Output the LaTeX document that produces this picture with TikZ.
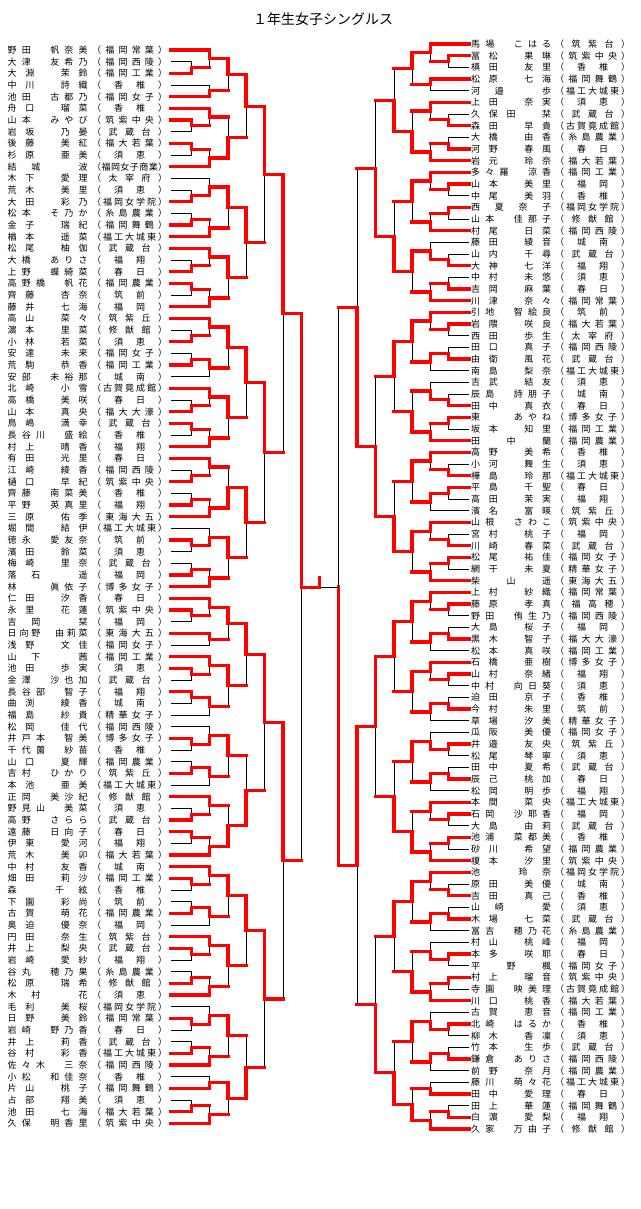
\documentclass[tikz,border=0pt]{standalone}
\usepackage{fontspec}
\setmainfont{Noto Sans CJK JP}
\usetikzlibrary{calc}
\ExplSyntaxOn
\cs_new_protected:Npn \my_dist:nn #1#2
  {
    \hbox_to_wd:nn {#1}
      {
        \bool_set_true:N \l_tmpa_bool
        \tl_map_inline:nn {#2}
          {
            \bool_if:NTF \l_tmpa_bool { \bool_set_false:N \l_tmpa_bool } { \hfill }
            ##1
          }
      }
  }
\NewDocumentCommand \dist { m m } { \my_dist:nn {#1} {#2} }
\ExplSyntaxOff
% entries
\newcommand\EntL[3]{%
  \pgfmathsetmacro\yy{50+11.667*(#1-1)}%
  \coordinate (L#1) at (171,\yy);
  \node[txt] (Ln#1) at (7.5,\yy) {\dist{80pt}{#2}};
  \node[txt] (Ls#1) at (92,\yy) {\dist{75pt}{#3}};
}
\newcommand\EntR[3]{%
  \pgfmathsetmacro\yy{44+11.667*(#1-1)}%
  \coordinate (R#1) at (469,\yy);
  \node[txt] (Rn#1) at (471,\yy) {\dist{80pt}{#2}};
  \node[txt] (Rs#1) at (555,\yy) {\dist{75pt}{#3}};
}
% match: name, level coordinate, input A, input B, winner (1/2)
\newcommand\Mt[5]{%
  \coordinate (#1-t) at (#3 -| #2);
  \coordinate (#1-b) at (#4 -| #2);
  \coordinate (#1) at ($(#1-t)!.5!(#1-b)$);
  \draw[thinln] (#3) -- (#1-t) -- (#1-b) -- (#4);
  \ifnum#5=1
    \draw[redln] (#3) -- (#1-t) -- (#1);
    \ifcsname ism@#4\endcsname \draw[redln] (#4) -- (#1-b);\fi
  \else
    \draw[redln] (#4) -- (#1-b) -- (#1);
    \ifcsname ism@#3\endcsname \draw[redln] (#3) -- (#1-t);\fi
  \fi
  \expandafter\gdef\csname ism@#1\endcsname{}%
}
\begin{document}
\begin{tikzpicture}[x=1pt,y=-1pt,
  thinln/.style={black,line width=0.9pt},
  redln/.style={red,line width=3.2pt,line cap=rect,line join=miter},
  txt/.style={inner sep=0pt,anchor=west,font=\fontsize{9}{9}\selectfont}]
\useasboundingbox (0,0) rectangle (640,1209);
\fill[white] (0,0) rectangle (640,1209);
\node[font=\fontsize{14}{14}\selectfont] (title) at (323,19) {１年生女子シングルス};
% level coordinates
\coordinate (xLP) at (191.5,0); \coordinate (xLA) at (209.5,0);
\coordinate (xLB) at (228,0);   \coordinate (xLC) at (246,0);
\coordinate (xLD) at (264.5,0); \coordinate (xLE) at (283,0);
\coordinate (xLF) at (301.5,0);
\coordinate (xRP) at (448.5,0); \coordinate (xRA) at (430.5,0);
\coordinate (xRB) at (412,0);   \coordinate (xRC) at (394,0);
\coordinate (xRD) at (375.5,0); \coordinate (xRE) at (357,0);
\coordinate (xRF) at (338.5,0);
\coordinate (xFC) at (319.5,0);
% ---------------- left entries
\EntL{1}{野田　帆奈美}{（福岡常葉）}
\EntL{2}{大津　友希乃}{（福岡西陵）}
\EntL{3}{大淵　茉鈴}{（福岡工業）}
\EntL{4}{中川　詩織}{（香椎）}
\EntL{5}{池田　古都乃}{（福岡女子）}
\EntL{6}{舟口　瑠菜}{（香椎）}
\EntL{7}{山本　みやび}{（筑紫中央）}
\EntL{8}{岩坂　乃晏}{（武蔵台）}
\EntL{9}{後藤　美紅}{（福大若葉）}
\EntL{10}{杉原　亜美}{（須恵）}
\EntL{11}{結城　波}{（福岡女子商業）}
\EntL{12}{木下　愛理}{（太宰府）}
\EntL{13}{荒木　美里}{（須恵）}
\EntL{14}{大田　彩乃}{（福岡女学院）}
\EntL{15}{松本　そ乃か}{（糸島農業）}
\EntL{16}{金子　瑞紀}{（福岡舞鶴）}
\EntL{17}{楢本　遥菜}{（福工大城東）}
\EntL{18}{松尾　柚伽}{（武蔵台）}
\EntL{19}{大橋　ありさ}{（福翔）}
\EntL{20}{上野　蝶綺菜}{（春日）}
\EntL{21}{高野橋　帆花}{（福岡農業）}
\EntL{22}{齊藤　杏奈}{（筑前）}
\EntL{23}{藤井　七海}{（福岡）}
\EntL{24}{高山　菜々}{（筑紫丘）}
\EntL{25}{濵本　里菜}{（修猷館）}
\EntL{26}{小林　若菜}{（須恵）}
\EntL{27}{安達　未来}{（福岡女子）}
\EntL{28}{荒駒　恭香}{（福岡工業）}
\EntL{29}{安部　未裕那}{（城南）}
\EntL{30}{北崎　小雪}{（古賀竟成館）}
\EntL{31}{高橋　美咲}{（春日）}
\EntL{32}{山本　真央}{（福大大濠）}
\EntL{33}{鳥嶋　満幸}{（武蔵台）}
\EntL{34}{長谷川　盛絵}{（香椎）}
\EntL{35}{村上　晴香}{（福翔）}
\EntL{36}{有田　光里}{（春日）}
\EntL{37}{江崎　綾香}{（福岡西陵）}
\EntL{38}{樋口　早紀}{（筑紫中央）}
\EntL{39}{齊藤　南菜美}{（香椎）}
\EntL{40}{平野　英真里}{（福翔）}
\EntL{41}{三原　佑季}{（東海大五）}
\EntL{42}{堀間　結伊}{（福工大城東）}
\EntL{43}{徳永　愛友奈}{（筑前）}
\EntL{44}{濱田　鈴菜}{（須恵）}
\EntL{45}{梅崎　里奈}{（武蔵台）}
\EntL{46}{落石　遥}{（福岡）}
\EntL{47}{林　　眞依子}{（博多女子）}
\EntL{48}{仁田　汐香}{（春日）}
\EntL{49}{永里　花蓮}{（筑紫中央）}
\EntL{50}{吉岡　栞}{（福岡）}
\EntL{51}{日向野　由莉菜}{（東海大五）}
\EntL{52}{浅野　文佳}{（福岡女子）}
\EntL{53}{山下　茜}{（福岡工業）}
\EntL{54}{池田　歩実}{（須恵）}
\EntL{55}{金澤　沙也加}{（武蔵台）}
\EntL{56}{長谷部　智子}{（福翔）}
\EntL{57}{曲渕　綾香}{（城南）}
\EntL{58}{福島　紗貴}{（精華女子）}
\EntL{59}{松岡　佳代}{（福岡西陵）}
\EntL{60}{井戸本　智美}{（博多女子）}
\EntL{61}{千代薗　紗苗}{（香椎）}
\EntL{62}{山口　夏輝}{（福岡農業）}
\EntL{63}{吉村　ひかり}{（筑紫丘）}
\EntL{64}{本池　亜美}{（福工大城東）}
\EntL{65}{正岡　美沙紀}{（修猷館）}
\EntL{66}{野見山　美菜}{（須恵）}
\EntL{67}{高野　さらら}{（武蔵台）}
\EntL{68}{遠藤　日向子}{（春日）}
\EntL{69}{伊東　愛河}{（福翔）}
\EntL{70}{荒木　美卯}{（福大若葉）}
\EntL{71}{中村　友香}{（城南）}
\EntL{72}{畑田　莉沙}{（福岡工業）}
\EntL{73}{森　千絃}{（香椎）}
\EntL{74}{下園　彩尚}{（筑前）}
\EntL{75}{古賀　萌花}{（福岡農業）}
\EntL{76}{奥迫　優奈}{（福岡）}
\EntL{77}{円田　奈生}{（筑紫台）}
\EntL{78}{井上　梨央}{（武蔵台）}
\EntL{79}{岩崎　愛紗}{（福翔）}
\EntL{80}{谷丸　穂乃果}{（糸島農業）}
\EntL{81}{松原　瑞希}{（修猷館）}
\EntL{82}{木村　花}{（須恵）}
\EntL{83}{毛利　美桜}{（福岡女学院）}
\EntL{84}{日野　美鈴}{（福岡常葉）}
\EntL{85}{岩崎　野乃香}{（春日）}
\EntL{86}{井上　莉香}{（武蔵台）}
\EntL{87}{谷村　彩香}{（福工大城東）}
\EntL{88}{佐々木　三奈}{（福岡西陵）}
\EntL{89}{小松　和佳奈}{（香椎）}
\EntL{90}{片山　桃子}{（福岡舞鶴）}
\EntL{91}{占部　翔美}{（須恵）}
\EntL{92}{池田　七海}{（福大若葉）}
\EntL{93}{久保　明香里}{（筑紫中央）}
% ---------------- right entries
\EntR{1}{馬場　こはる}{（筑紫台）}
\EntR{2}{冨松　果琳}{（筑紫中央）}
\EntR{3}{槙田　友里}{（香椎）}
\EntR{4}{松原　七海}{（福岡舞鶴）}
\EntR{5}{河邉　歩}{（福工大城東）}
\EntR{6}{上田　奈実}{（須恵）}
\EntR{7}{久保田　栞}{（武蔵台）}
\EntR{8}{森田　早貴}{（古賀竟成館）}
\EntR{9}{大橋　由香}{（糸島農業）}
\EntR{10}{河野　春風}{（春日）}
\EntR{11}{岩元　玲奈}{（福大若葉）}
\EntR{12}{多々羅　涼香}{（福岡工業）}
\EntR{13}{山本　美里}{（福岡）}
\EntR{14}{中尾　美羽}{（香椎）}
\EntR{15}{西夏奈子}{（福岡女学院）}
\EntR{16}{山本　佳那子}{（修猷館）}
\EntR{17}{村尾　日菜}{（福岡西陵）}
\EntR{18}{藤田　綾音}{（城南）}
\EntR{19}{山内　千尋}{（武蔵台）}
\EntR{20}{大神　七洋}{（福翔）}
\EntR{21}{中村　未悠}{（須恵）}
\EntR{22}{吉岡　麻葉}{（春日）}
\EntR{23}{川津　奈々}{（福岡常葉）}
\EntR{24}{引地　智絵良}{（筑前）}
\EntR{25}{岩隈　咲良}{（福大若葉）}
\EntR{26}{西田　歩生}{（太宰府）}
\EntR{27}{田口　真子}{（福岡西陵）}
\EntR{28}{由衛　風花}{（武蔵台）}
\EntR{29}{南島　梨奈}{（福工大城東）}
\EntR{30}{吉武　結友}{（須恵）}
\EntR{31}{辰島　詩朋子}{（城南）}
\EntR{32}{田中　真衣}{（春日）}
\EntR{33}{東　　あやね}{（博多女子）}
\EntR{34}{坂本　知里}{（福岡工業）}
\EntR{35}{田　中　蘭}{（福岡農業）}
\EntR{36}{高野　美希}{（香椎）}
\EntR{37}{小河　舞生}{（須恵）}
\EntR{38}{樺島　玲那}{（福工大城東）}
\EntR{39}{平島　千聖}{（春日）}
\EntR{40}{高田　茉実}{（福翔）}
\EntR{41}{濱名　富暎}{（筑紫丘）}
\EntR{42}{山根　さわこ}{（筑紫中央）}
\EntR{43}{宮村　桃子}{（福岡）}
\EntR{44}{川崎　春菜}{（武蔵台）}
\EntR{45}{松尾　祐佳}{（福岡女子）}
\EntR{46}{網干　未夏}{（精華女子）}
\EntR{47}{柴　山　遥}{（東海大五）}
\EntR{48}{上村　紗織}{（福岡常葉）}
\EntR{49}{藤原　孝真}{（福高穂）}
\EntR{50}{野田　侑生乃}{（福岡西陵）}
\EntR{51}{大島　桜子}{（福岡）}
\EntR{52}{黒木　智子}{（福大大濠）}
\EntR{53}{松本　真咲}{（福岡工業）}
\EntR{54}{石橋　亜樹}{（博多女子）}
\EntR{55}{山村　奈緒}{（福翔）}
\EntR{56}{中村　向日葵}{（須恵）}
\EntR{57}{迫田　京子}{（香椎）}
\EntR{58}{今村　朱里}{（筑前）}
\EntR{59}{草場　汐美}{（精華女子）}
\EntR{60}{瓜阪　美優}{（福岡女子）}
\EntR{61}{井邉　友央}{（筑紫丘）}
\EntR{62}{松尾　琴寧}{（須恵）}
\EntR{63}{田中　夏希}{（武蔵台）}
\EntR{64}{辰己　桃加}{（春日）}
\EntR{65}{松岡　明歩}{（福翔）}
\EntR{66}{本間　菜央}{（福工大城東）}
\EntR{67}{石岡　沙耶香}{（福岡）}
\EntR{68}{大島　由莉}{（武蔵台）}
\EntR{69}{池浦　菜都美}{（香椎）}
\EntR{70}{砂川　希望}{（福岡農業）}
\EntR{71}{榎本　汐里}{（筑紫中央）}
\EntR{72}{池　玲奈}{（福岡女学院）}
\EntR{73}{原田　美優}{（城南）}
\EntR{74}{吉田　真己}{（香椎）}
\EntR{75}{山崎　愛}{（須恵）}
\EntR{76}{木場　七菜}{（武蔵台）}
\EntR{77}{冨吉　穂乃花}{（糸島農業）}
\EntR{78}{村山　桃峰}{（福岡）}
\EntR{79}{本多　咲耶}{（春日）}
\EntR{80}{平　野　楓}{（福岡女子）}
\EntR{81}{村上　瑠音}{（筑紫中央）}
\EntR{82}{寺園　映美理}{（古賀竟成館）}
\EntR{83}{川口　桃香}{（福大若葉）}
\EntR{84}{古賀　恵音}{（福岡工業）}
\EntR{85}{北崎　はるか}{（香椎）}
\EntR{86}{柳木　香凜}{（須恵）}
\EntR{87}{竹本　生歩}{（武蔵台）}
\EntR{88}{鎌倉　ありさ}{（福岡西陵）}
\EntR{89}{前野　奈月}{（福岡農業）}
\EntR{90}{藤川　萌々花}{（福工大城東）}
\EntR{91}{田中　愛理}{（春日）}
\EntR{92}{田上　華蓮}{（福岡舞鶴）}
\EntR{93}{白濵　愛梨}{（福翔）}
\EntR{94}{久家　万由子}{（修猷館）}
% ---------------- left bracket: preliminary
\Mt{lp2}{xLP}{L2}{L3}{2}
\Mt{lp7}{xLP}{L7}{L8}{1}
\Mt{lp9}{xLP}{L9}{L10}{1}
\Mt{lp13}{xLP}{L13}{L14}{2}
\Mt{lp15}{xLP}{L15}{L16}{2}
\Mt{lp19}{xLP}{L19}{L20}{2}
\Mt{lp21}{xLP}{L21}{L22}{1}
\Mt{lp25}{xLP}{L25}{L26}{2}
\Mt{lp27}{xLP}{L27}{L28}{2}
\Mt{lp31}{xLP}{L31}{L32}{2}
\Mt{lp33}{xLP}{L33}{L34}{1}
\Mt{lp37}{xLP}{L37}{L38}{2}
\Mt{lp39}{xLP}{L39}{L40}{2}
\Mt{lp43}{xLP}{L43}{L44}{1}
\Mt{lp45}{xLP}{L45}{L46}{2}
\Mt{lp49}{xLP}{L49}{L50}{1}
\Mt{lp54}{xLP}{L54}{L55}{1}
\Mt{lp56}{xLP}{L56}{L57}{1}
\Mt{lp60}{xLP}{L60}{L61}{1}
\Mt{lp62}{xLP}{L62}{L63}{2}
\Mt{lp66}{xLP}{L66}{L67}{2}
\Mt{lp68}{xLP}{L68}{L69}{1}
\Mt{lp72}{xLP}{L72}{L73}{1}
\Mt{lp74}{xLP}{L74}{L75}{2}
\Mt{lp78}{xLP}{L78}{L79}{1}
\Mt{lp80}{xLP}{L80}{L81}{2}
\Mt{lp84}{xLP}{L84}{L85}{1}
\Mt{lp86}{xLP}{L86}{L87}{2}
\Mt{lp91}{xLP}{L91}{L92}{2}
% round 1
\Mt{la1}{xLA}{L1}{lp2}{1}
\Mt{la2}{xLA}{L4}{L5}{2}
\Mt{la3}{xLA}{L6}{lp7}{1}
\Mt{la4}{xLA}{lp9}{L11}{2}
\Mt{la5}{xLA}{L12}{lp13}{2}
\Mt{la6}{xLA}{lp15}{L17}{2}
\Mt{la7}{xLA}{L18}{lp19}{1}
\Mt{la8}{xLA}{lp21}{L23}{2}
\Mt{la9}{xLA}{L24}{lp25}{1}
\Mt{la10}{xLA}{lp27}{L29}{1}
\Mt{la11}{xLA}{L30}{lp31}{1}
\Mt{la12}{xLA}{lp33}{L35}{2}
\Mt{la13}{xLA}{L36}{lp37}{1}
\Mt{la14}{xLA}{lp39}{L41}{2}
\Mt{la15}{xLA}{L42}{lp43}{2}
\Mt{la16}{xLA}{lp45}{L47}{2}
\Mt{la17}{xLA}{L48}{lp49}{1}
\Mt{la18}{xLA}{L51}{L52}{1}
\Mt{la19}{xLA}{L53}{lp54}{1}
\Mt{la20}{xLA}{lp56}{L58}{1}
\Mt{la21}{xLA}{L59}{lp60}{2}
\Mt{la22}{xLA}{lp62}{L64}{1}
\Mt{la23}{xLA}{L65}{lp66}{1}
\Mt{la24}{xLA}{lp68}{L70}{2}
\Mt{la25}{xLA}{L71}{lp72}{1}
\Mt{la26}{xLA}{lp74}{L76}{1}
\Mt{la27}{xLA}{L77}{lp78}{1}
\Mt{la28}{xLA}{lp80}{L82}{2}
\Mt{la29}{xLA}{L83}{lp84}{2}
\Mt{la30}{xLA}{lp86}{L88}{2}
\Mt{la31}{xLA}{L89}{L90}{2}
\Mt{la32}{xLA}{lp91}{L93}{2}
% round 2
\Mt{lb1}{xLB}{la1}{la2}{1}
\Mt{lb2}{xLB}{la3}{la4}{2}
\Mt{lb3}{xLB}{la5}{la6}{1}
\Mt{lb4}{xLB}{la7}{la8}{1}
\Mt{lb5}{xLB}{la9}{la10}{1}
\Mt{lb6}{xLB}{la11}{la12}{1}
\Mt{lb7}{xLB}{la13}{la14}{2}
\Mt{lb8}{xLB}{la15}{la16}{1}
\Mt{lb9}{xLB}{la17}{la18}{1}
\Mt{lb10}{xLB}{la19}{la20}{1}
\Mt{lb11}{xLB}{la21}{la22}{1}
\Mt{lb12}{xLB}{la23}{la24}{2}
\Mt{lb13}{xLB}{la25}{la26}{1}
\Mt{lb14}{xLB}{la27}{la28}{1}
\Mt{lb15}{xLB}{la29}{la30}{1}
\Mt{lb16}{xLB}{la31}{la32}{1}
% round 3
\Mt{lc1}{xLC}{lb1}{lb2}{1}
\Mt{lc2}{xLC}{lb3}{lb4}{1}
\Mt{lc3}{xLC}{lb5}{lb6}{1}
\Mt{lc4}{xLC}{lb7}{lb8}{1}
\Mt{lc5}{xLC}{lb9}{lb10}{1}
\Mt{lc6}{xLC}{lb11}{lb12}{2}
\Mt{lc7}{xLC}{lb13}{lb14}{1}
\Mt{lc8}{xLC}{lb15}{lb16}{2}
% round 4-6
\Mt{ld1}{xLD}{lc1}{lc2}{1}
\Mt{ld2}{xLD}{lc3}{lc4}{1}
\Mt{ld3}{xLD}{lc5}{lc6}{1}
\Mt{ld4}{xLD}{lc7}{lc8}{1}
\Mt{le1}{xLE}{ld1}{ld2}{1}
\Mt{le2}{xLE}{ld3}{ld4}{1}
\Mt{lf}{xLF}{le1}{le2}{1}
% ---------------- right bracket: preliminary
\Mt{rp2}{xRP}{R2}{R3}{1}
\Mt{rp7}{xRP}{R7}{R8}{2}
\Mt{rp9}{xRP}{R9}{R10}{2}
\Mt{rp13}{xRP}{R13}{R14}{1}
\Mt{rp15}{xRP}{R15}{R16}{1}
\Mt{rp19}{xRP}{R19}{R20}{2}
\Mt{rp21}{xRP}{R21}{R22}{2}
\Mt{rp25}{xRP}{R25}{R26}{1}
\Mt{rp27}{xRP}{R27}{R28}{2}
\Mt{rp31}{xRP}{R31}{R32}{2}
\Mt{rp33}{xRP}{R33}{R34}{1}
\Mt{rp37}{xRP}{R37}{R38}{2}
\Mt{rp39}{xRP}{R39}{R40}{1}
\Mt{rp43}{xRP}{R43}{R44}{2}
\Mt{rp45}{xRP}{R45}{R46}{1}
\Mt{rp49}{xRP}{R49}{R50}{1}
\Mt{rp51}{xRP}{R51}{R52}{2}
\Mt{rp55}{xRP}{R55}{R56}{1}
\Mt{rp57}{xRP}{R57}{R58}{2}
\Mt{rp61}{xRP}{R61}{R62}{1}
\Mt{rp63}{xRP}{R63}{R64}{2}
\Mt{rp67}{xRP}{R67}{R68}{1}
\Mt{rp69}{xRP}{R69}{R70}{1}
\Mt{rp73}{xRP}{R73}{R74}{2}
\Mt{rp75}{xRP}{R75}{R76}{2}
\Mt{rp79}{xRP}{R79}{R80}{1}
\Mt{rp81}{xRP}{R81}{R82}{1}
\Mt{rp85}{xRP}{R85}{R86}{1}
\Mt{rp87}{xRP}{R87}{R88}{2}
\Mt{rp92}{xRP}{R92}{R93}{2}
% round 1
\Mt{ra1}{xRA}{R1}{rp2}{1}
\Mt{ra2}{xRA}{R4}{R5}{1}
\Mt{ra3}{xRA}{R6}{rp7}{1}
\Mt{ra4}{xRA}{rp9}{R11}{2}
\Mt{ra5}{xRA}{R12}{rp13}{1}
\Mt{ra6}{xRA}{rp15}{R17}{2}
\Mt{ra7}{xRA}{R18}{rp19}{2}
\Mt{ra8}{xRA}{rp21}{R23}{2}
\Mt{ra9}{xRA}{R24}{rp25}{1}
\Mt{ra10}{xRA}{rp27}{R29}{1}
\Mt{ra11}{xRA}{R30}{rp31}{2}
\Mt{ra12}{xRA}{rp33}{R35}{2}
\Mt{ra13}{xRA}{R36}{rp37}{1}
\Mt{ra14}{xRA}{rp39}{R41}{1}
\Mt{ra15}{xRA}{R42}{rp43}{1}
\Mt{ra16}{xRA}{rp45}{R47}{2}
\Mt{ra17}{xRA}{R48}{rp49}{1}
\Mt{ra18}{xRA}{rp51}{R53}{1}
\Mt{ra19}{xRA}{R54}{rp55}{1}
\Mt{ra20}{xRA}{rp57}{R59}{1}
\Mt{ra21}{xRA}{R60}{rp61}{2}
\Mt{ra22}{xRA}{rp63}{R65}{1}
\Mt{ra23}{xRA}{R66}{rp67}{1}
\Mt{ra24}{xRA}{rp69}{R71}{2}
\Mt{ra25}{xRA}{R72}{rp73}{1}
\Mt{ra26}{xRA}{rp75}{R77}{1}
\Mt{ra27}{xRA}{R78}{rp79}{2}
\Mt{ra28}{xRA}{rp81}{R83}{2}
\Mt{ra29}{xRA}{R84}{rp85}{2}
\Mt{ra30}{xRA}{rp87}{R89}{1}
\Mt{ra31}{xRA}{R90}{R91}{2}
\Mt{ra32}{xRA}{rp92}{R94}{2}
% round 2
\Mt{rb1}{xRB}{ra1}{ra2}{1}
\Mt{rb2}{xRB}{ra3}{ra4}{2}
\Mt{rb3}{xRB}{ra5}{ra6}{1}
\Mt{rb4}{xRB}{ra7}{ra8}{1}
\Mt{rb5}{xRB}{ra9}{ra10}{1}
\Mt{rb6}{xRB}{ra11}{ra12}{2}
\Mt{rb7}{xRB}{ra13}{ra14}{1}
\Mt{rb8}{xRB}{ra15}{ra16}{1}
\Mt{rb9}{xRB}{ra17}{ra18}{1}
\Mt{rb10}{xRB}{ra19}{ra20}{1}
\Mt{rb11}{xRB}{ra21}{ra22}{1}
\Mt{rb12}{xRB}{ra23}{ra24}{2}
\Mt{rb13}{xRB}{ra25}{ra26}{1}
\Mt{rb14}{xRB}{ra27}{ra28}{2}
\Mt{rb15}{xRB}{ra29}{ra30}{1}
\Mt{rb16}{xRB}{ra31}{ra32}{2}
% round 3
\Mt{rc1}{xRC}{rb1}{rb2}{2}
\Mt{rc2}{xRC}{rb3}{rb4}{2}
\Mt{rc3}{xRC}{rb5}{rb6}{1}
\Mt{rc4}{xRC}{rb7}{rb8}{2}
\Mt{rc5}{xRC}{rb9}{rb10}{1}
\Mt{rc6}{xRC}{rb11}{rb12}{2}
\Mt{rc7}{xRC}{rb13}{rb14}{1}
\Mt{rc8}{xRC}{rb15}{rb16}{2}
% round 4-6
\Mt{rd1}{xRD}{rc1}{rc2}{2}
\Mt{rd2}{xRD}{rc3}{rc4}{2}
\Mt{rd3}{xRD}{rc5}{rc6}{1}
\Mt{rd4}{xRD}{rc7}{rc8}{2}
\Mt{re1}{xRE}{rd1}{rd2}{2}
\Mt{re2}{xRE}{rd3}{rd4}{1}
\Mt{rf}{xRF}{re1}{re2}{2}
% ---------------- final
\coordinate (fc) at (lf -| xFC);
\draw[thinln] (lf) -- (fc) -- (fc -| rf) -- (rf);
\draw[redln] (lf) -- (fc) -- ++(0,-10);
\end{tikzpicture}
\end{document}
